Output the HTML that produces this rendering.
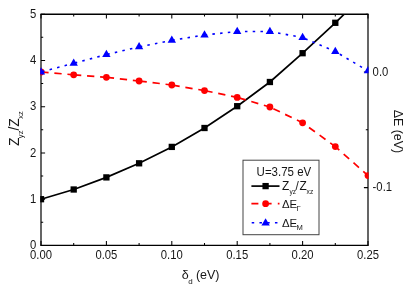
<!DOCTYPE html><html><head><meta charset="utf-8"><style>
html,body{margin:0;padding:0;background:#fff;}
svg{display:block;will-change:transform;} text{font-family:"Liberation Sans",sans-serif;fill:#161616;}
</style></head><body>
<svg width="409" height="289" viewBox="0 0 409 289">
<rect x="0" y="0" width="409" height="289" fill="#fff"/>
<defs><clipPath id="c"><rect x="40.2" y="14.1" width="328.35" height="231.9"/></clipPath></defs>
<path d="M41.00,245.4 v-4.4 M41.00,14.2 v4.4 M73.70,245.4 v-2.4 M73.70,14.2 v2.4 M106.40,245.4 v-4.4 M106.40,14.2 v4.4 M139.10,245.4 v-2.4 M139.10,14.2 v2.4 M171.80,245.4 v-4.4 M171.80,14.2 v4.4 M204.50,245.4 v-2.4 M204.50,14.2 v2.4 M237.20,245.4 v-4.4 M237.20,14.2 v4.4 M269.90,245.4 v-2.4 M269.90,14.2 v2.4 M302.60,245.4 v-4.4 M302.60,14.2 v4.4 M335.30,245.4 v-2.4 M335.30,14.2 v2.4 M368.00,245.4 v-4.4 M368.00,14.2 v4.4 M41.0,245.40 h4.1 M41.0,222.28 h2.2 M41.0,199.16 h4.1 M41.0,176.04 h2.2 M41.0,152.92 h4.1 M41.0,129.80 h2.2 M41.0,106.68 h4.1 M41.0,83.56 h2.2 M41.0,60.44 h4.1 M41.0,37.32 h2.2 M41.0,14.20 h4.1 M368.0,14.20 h-2.2 M368.0,72.00 h-4.1 M368.0,129.80 h-2.2 M368.0,187.60 h-4.1 M368.0,245.40 h-2.2" stroke="#000" stroke-width="1.05" fill="none"/>
<path d="M40.4,14.15 H368.6" stroke="#000" stroke-width="1.45" fill="none"/>
<path d="M40.4,245.4 H368.6" stroke="#000" stroke-width="1.25" fill="none"/>
<path d="M41.0,14.2 V245.4 M368.0,14.2 V245.4" stroke="#000" stroke-width="1.2" fill="none"/>
<g clip-path="url(#c)">
<polyline points="41.00,199.20 73.70,189.50 106.40,177.40 139.10,163.30 171.80,146.90 204.50,128.00 237.20,106.20 269.90,82.00 302.60,53.20 335.30,22.80 368.00,-9.00" fill="none" stroke="#000" stroke-width="1.7"/>
<rect x="37.85" y="196.05" width="6.3" height="6.3" fill="#000"/>
<rect x="70.55" y="186.35" width="6.3" height="6.3" fill="#000"/>
<rect x="103.25" y="174.25" width="6.3" height="6.3" fill="#000"/>
<rect x="135.95" y="160.15" width="6.3" height="6.3" fill="#000"/>
<rect x="168.65" y="143.75" width="6.3" height="6.3" fill="#000"/>
<rect x="201.35" y="124.85" width="6.3" height="6.3" fill="#000"/>
<rect x="234.05" y="103.05" width="6.3" height="6.3" fill="#000"/>
<rect x="266.75" y="78.85" width="6.3" height="6.3" fill="#000"/>
<rect x="299.45" y="50.05" width="6.3" height="6.3" fill="#000"/>
<rect x="332.15" y="19.65" width="6.3" height="6.3" fill="#000"/>
<rect x="364.85" y="-12.15" width="6.3" height="6.3" fill="#000"/>
<line x1="73.70" y1="74.80" x2="41.00" y2="72.00" stroke="#f00" stroke-width="1.7" stroke-dasharray="7.3 5.8" stroke-dashoffset="1.0"/>
<line x1="106.40" y1="77.30" x2="73.70" y2="74.80" stroke="#f00" stroke-width="1.7" stroke-dasharray="7.3 5.8" stroke-dashoffset="1.0"/>
<line x1="139.10" y1="81.00" x2="106.40" y2="77.30" stroke="#f00" stroke-width="1.7" stroke-dasharray="7.3 5.8" stroke-dashoffset="1.0"/>
<line x1="171.80" y1="85.00" x2="139.10" y2="81.00" stroke="#f00" stroke-width="1.7" stroke-dasharray="7.3 5.8" stroke-dashoffset="1.0"/>
<line x1="204.50" y1="90.60" x2="171.80" y2="85.00" stroke="#f00" stroke-width="1.7" stroke-dasharray="7.3 5.8" stroke-dashoffset="1.0"/>
<line x1="237.20" y1="97.40" x2="204.50" y2="90.60" stroke="#f00" stroke-width="1.7" stroke-dasharray="7.3 5.8" stroke-dashoffset="1.0"/>
<line x1="269.90" y1="107.00" x2="237.20" y2="97.40" stroke="#f00" stroke-width="1.7" stroke-dasharray="7.3 5.8" stroke-dashoffset="1.0"/>
<line x1="302.60" y1="122.80" x2="269.90" y2="107.00" stroke="#f00" stroke-width="1.7" stroke-dasharray="7.3 5.8" stroke-dashoffset="1.0"/>
<line x1="335.30" y1="146.60" x2="302.60" y2="122.80" stroke="#f00" stroke-width="1.7" stroke-dasharray="7.3 5.8" stroke-dashoffset="1.0"/>
<line x1="368.00" y1="175.60" x2="335.30" y2="146.60" stroke="#f00" stroke-width="1.7" stroke-dasharray="7.3 5.8" stroke-dashoffset="1.0"/>
<circle cx="41.00" cy="72.00" r="3.4" fill="#f00"/>
<circle cx="73.70" cy="74.80" r="3.4" fill="#f00"/>
<circle cx="106.40" cy="77.30" r="3.4" fill="#f00"/>
<circle cx="139.10" cy="81.00" r="3.4" fill="#f00"/>
<circle cx="171.80" cy="85.00" r="3.4" fill="#f00"/>
<circle cx="204.50" cy="90.60" r="3.4" fill="#f00"/>
<circle cx="237.20" cy="97.40" r="3.4" fill="#f00"/>
<circle cx="269.90" cy="107.00" r="3.4" fill="#f00"/>
<circle cx="302.60" cy="122.80" r="3.4" fill="#f00"/>
<circle cx="335.30" cy="146.60" r="3.4" fill="#f00"/>
<circle cx="368.00" cy="175.60" r="3.4" fill="#f00"/>
<line x1="73.70" y1="63.30" x2="41.00" y2="72.00" stroke="#00f" stroke-width="1.6" stroke-dasharray="2.5 5.25" stroke-dashoffset="0.8"/>
<line x1="106.40" y1="54.60" x2="73.70" y2="63.30" stroke="#00f" stroke-width="1.6" stroke-dasharray="2.5 5.25" stroke-dashoffset="0.8"/>
<line x1="139.10" y1="46.90" x2="106.40" y2="54.60" stroke="#00f" stroke-width="1.6" stroke-dasharray="2.5 5.25" stroke-dashoffset="0.8"/>
<line x1="171.80" y1="40.30" x2="139.10" y2="46.90" stroke="#00f" stroke-width="1.6" stroke-dasharray="2.5 5.25" stroke-dashoffset="0.8"/>
<line x1="204.50" y1="35.00" x2="171.80" y2="40.30" stroke="#00f" stroke-width="1.6" stroke-dasharray="2.5 5.25" stroke-dashoffset="0.8"/>
<line x1="237.20" y1="31.50" x2="204.50" y2="35.00" stroke="#00f" stroke-width="1.6" stroke-dasharray="2.5 5.25" stroke-dashoffset="0.8"/>
<line x1="269.90" y1="31.50" x2="237.20" y2="31.50" stroke="#00f" stroke-width="1.6" stroke-dasharray="2.5 5.25" stroke-dashoffset="0.8"/>
<line x1="302.60" y1="37.50" x2="269.90" y2="31.50" stroke="#00f" stroke-width="1.6" stroke-dasharray="2.5 5.25" stroke-dashoffset="0.8"/>
<line x1="335.30" y1="51.60" x2="302.60" y2="37.50" stroke="#00f" stroke-width="1.6" stroke-dasharray="2.5 5.25" stroke-dashoffset="0.8"/>
<line x1="368.00" y1="70.90" x2="335.30" y2="51.60" stroke="#00f" stroke-width="1.6" stroke-dasharray="2.5 5.25" stroke-dashoffset="0.8"/>
<polygon points="41.00,67.15 45.20,74.42 36.80,74.42" fill="#00f"/>
<polygon points="73.70,58.45 77.90,65.72 69.50,65.72" fill="#00f"/>
<polygon points="106.40,49.75 110.60,57.02 102.20,57.02" fill="#00f"/>
<polygon points="139.10,42.05 143.30,49.32 134.90,49.32" fill="#00f"/>
<polygon points="171.80,35.45 176.00,42.72 167.60,42.72" fill="#00f"/>
<polygon points="204.50,30.15 208.70,37.42 200.30,37.42" fill="#00f"/>
<polygon points="237.20,26.65 241.40,33.92 233.00,33.92" fill="#00f"/>
<polygon points="269.90,26.65 274.10,33.92 265.70,33.92" fill="#00f"/>
<polygon points="302.60,32.65 306.80,39.92 298.40,39.92" fill="#00f"/>
<polygon points="335.30,46.75 339.50,54.02 331.10,54.02" fill="#00f"/>
<polygon points="368.00,66.05 372.20,73.32 363.80,73.32" fill="#00f"/>
</g>
<text transform="translate(41.00,258.85) scale(1,1.085)" font-size="11.3" text-anchor="middle">0.00</text>
<text transform="translate(106.40,258.85) scale(1,1.085)" font-size="11.3" text-anchor="middle">0.05</text>
<text transform="translate(171.80,258.85) scale(1,1.085)" font-size="11.3" text-anchor="middle">0.10</text>
<text transform="translate(237.20,258.85) scale(1,1.085)" font-size="11.3" text-anchor="middle">0.15</text>
<text transform="translate(302.60,258.85) scale(1,1.085)" font-size="11.3" text-anchor="middle">0.20</text>
<text transform="translate(368.00,258.85) scale(1,1.085)" font-size="11.3" text-anchor="middle">0.25</text>
<text transform="translate(36.20,249.00) scale(1,1.085)" font-size="11.3" text-anchor="end">0</text>
<text transform="translate(36.20,202.76) scale(1,1.085)" font-size="11.3" text-anchor="end">1</text>
<text transform="translate(36.20,156.52) scale(1,1.085)" font-size="11.3" text-anchor="end">2</text>
<text transform="translate(36.20,110.28) scale(1,1.085)" font-size="11.3" text-anchor="end">3</text>
<text transform="translate(36.20,64.04) scale(1,1.085)" font-size="11.3" text-anchor="end">4</text>
<text transform="translate(36.20,17.80) scale(1,1.085)" font-size="11.3" text-anchor="end">5</text>
<text transform="translate(372.60,75.80) scale(1,1.085)" font-size="11.3" text-anchor="start">0.0</text>
<text transform="translate(372.60,191.40) scale(1,1.085)" font-size="11.3" text-anchor="start">-0.1</text>
<text x="181.7" y="279.0" font-size="12.5">δ<tspan font-size="8" dy="4.6" dx="-0.5">d</tspan><tspan x="195.9" dy="-4.6">(eV)</tspan></text>
<text transform="translate(19.4,128.6) rotate(-90)" font-size="14" text-anchor="middle">Z<tspan font-size="7.6" dy="4" dx="-0.6">yz</tspan><tspan dy="-4">/Z</tspan><tspan font-size="7.6" dy="4" dx="-0.6">xz</tspan></text>
<text transform="translate(394.3,131.4) rotate(90)" font-size="12.4" text-anchor="middle">ΔE (eV)</text>
<rect x="243" y="160.2" width="76" height="74.5" fill="#fff" stroke="#444" stroke-width="1"/>
<text transform="translate(256.6,175.8) scale(1,1.05)" font-size="11.5">U=3.75 eV</text>
<line x1="251.4" y1="186.1" x2="279.5" y2="186.1" stroke="#000" stroke-width="1.7"/>
<rect x="262.45" y="182.95" width="6.3" height="6.3" fill="#000"/>
<text font-size="11.9"><tspan x="281.9" y="189.6">Z</tspan><tspan font-size="6.6" x="289.4" y="194.2">yz</tspan><tspan x="295.5" y="189.6">/</tspan><tspan x="299.4" y="189.6">Z</tspan><tspan font-size="6.6" x="306.6" y="194.2">xz</tspan></text>
<line x1="251.4" y1="203.7" x2="279.5" y2="203.7" stroke="#f00" stroke-width="1.7" stroke-dasharray="7.0 6.2"/>
<circle cx="265.6" cy="203.7" r="3.4" fill="#f00"/>
<text x="282" y="207.8" font-size="11.4">ΔE<tspan font-size="7.6" dy="2.7" dx="-0.8">Γ</tspan></text>
<line x1="251.4" y1="222.8" x2="279.5" y2="222.8" stroke="#00f" stroke-width="1.6" stroke-dasharray="2.5 5.25" stroke-dashoffset="-0.3"/>
<polygon points="265.60,218.25 269.80,225.52 261.40,225.52" fill="#00f"/>
<text x="282" y="227" font-size="11.4">ΔE<tspan font-size="7.6" dy="3.3" dx="-0.6">M</tspan></text>
</svg></body></html>
